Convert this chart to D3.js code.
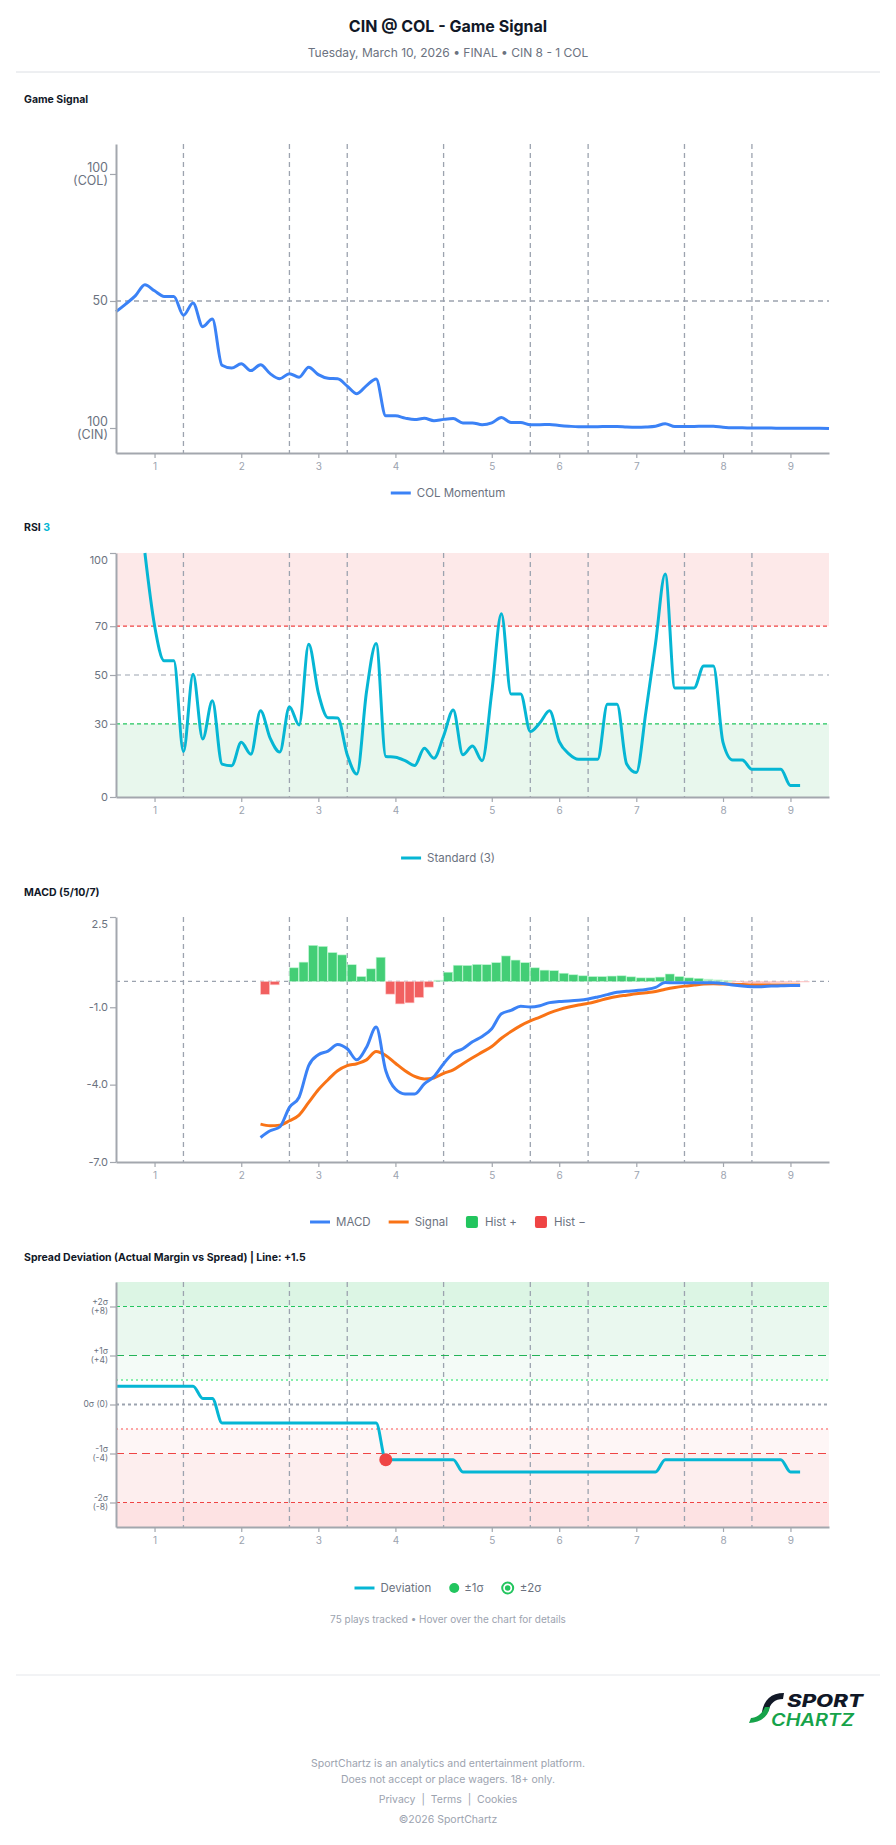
<!DOCTYPE html>
<html>
<head>
<meta charset="utf-8">
<script src="https://cdn.jsdelivr.net/npm/d3@7"></script>
<style>
  body { margin: 0; background: #fff; }
  svg text { font-family: Inter, "Noto Sans", sans-serif; }
</style>
</head>
<body>
<svg id="page"></svg>
<script>
// ---- data ----
const inningLabels = ["1", "2", "3", "4", "5", "6", "7", "8", "9"];
const inningTickPlay = [4, 13, 21, 29, 39, 46, 54, 63, 70];
const inningBreakPlay = [7, 18, 24, 34, 43, 49, 59, 66];

// COL momentum, play 0..74 (100 = COL, 0 = CIN)
const momentum = [
  45.8, 48.8, 52.0, 56.4, 54.0, 51.8, 51.8, 44.4, 49.2, 39.9,
  42.9, 24.7, 23.6, 25.3, 22.6, 24.9, 21.4, 19.4, 21.4, 20.0,
  23.9, 21.0, 19.6, 19.4, 16.5, 13.5, 16.7, 19.3, 4.8, 4.8,
  3.9, 3.3, 3.8, 2.9, 3.4, 3.7, 2.0, 2.0, 1.3, 2.0,
  4.1, 2.2, 2.2, 1.3, 1.3, 1.4, 1.0, 0.7, 0.5, 0.5,
  0.5, 0.6, 0.6, 0.4, 0.3, 0.4, 0.7, 1.7, 0.6, 0.6,
  0.6, 0.7, 0.7, 0.3, 0.1, 0.1, 0.0, 0.0, 0.0, -0.1,
  -0.1, -0.1, -0.1, -0.1, -0.2
];

// RSI(3), starts at play 3
const rsiStart = 3;
const rsi = [
  100, 70.3, 55.8, 55.8, 18.6, 50.3, 23.8, 39.4, 13.5, 12.8,
  22.4, 17.5, 35.3, 24.1, 18.4, 37.0, 29.5, 62.6, 42.7, 32.5,
  32.4, 17.3, 9.4, 43.1, 62.9, 16.6, 16.3, 14.9, 12.9, 20.0,
  15.9, 25.0, 35.7, 17.3, 20.9, 14.9, 43.0, 75.1, 42.2, 42.2,
  26.8, 30.4, 35.3, 22.7, 17.7, 15.5, 15.5, 15.5, 38.0, 38.0,
  13.5, 10.0, 35.0, 63.0, 91.4, 44.7, 44.7, 44.7, 53.7, 53.7,
  22.4, 15.2, 15.2, 11.4, 11.4, 11.4, 11.4, 4.7, 4.7
];

// MACD (5/10/7), starts at play 15
const macdStart = 15;
const macdLine = [
  -6.05, -5.79, -5.64, -4.88, -4.49, -3.26, -2.84, -2.70, -2.44, -2.61,
  -3.04, -2.55, -1.77, -3.46, -4.17, -4.36, -4.36, -3.97, -3.69, -3.19,
  -2.78, -2.61, -2.34, -2.13, -1.83, -1.25, -1.12, -0.96, -0.99, -0.94,
  -0.82, -0.78, -0.76, -0.73, -0.68, -0.60, -0.51, -0.42, -0.38, -0.35,
  -0.31, -0.23, -0.04, -0.05, -0.05, -0.05, -0.05, -0.05, -0.08, -0.14,
  -0.18, -0.20, -0.20, -0.18, -0.17, -0.16, -0.16
];
const signalLine = [
  -5.53, -5.59, -5.57, -5.40, -5.18, -4.69, -4.20, -3.81, -3.46, -3.26,
  -3.19, -3.04, -2.72, -2.87, -3.17, -3.46, -3.68, -3.78, -3.74, -3.56,
  -3.43, -3.19, -2.96, -2.74, -2.52, -2.20, -1.94, -1.71, -1.53, -1.38,
  -1.22, -1.09, -0.99, -0.91, -0.85, -0.76, -0.66, -0.58, -0.53, -0.48,
  -0.44, -0.39, -0.30, -0.23, -0.18, -0.14, -0.10, -0.09, -0.10, -0.11,
  -0.12, -0.14, -0.14, -0.14, -0.14, -0.14, -0.14
];
const histogram = [
  -0.50, -0.13, 0.00, 0.53, 0.75, 1.40, 1.36, 1.12, 1.03, 0.65,
  0.19, 0.49, 0.94, -0.49, -0.87, -0.83, -0.62, -0.22, 0.05, 0.36,
  0.63, 0.62, 0.66, 0.65, 0.73, 0.99, 0.83, 0.73, 0.53, 0.44,
  0.42, 0.32, 0.26, 0.22, 0.19, 0.19, 0.21, 0.22, 0.18, 0.14,
  0.14, 0.17, 0.29, 0.19, 0.14, 0.12, 0.09, 0.06, 0.03, -0.02,
  -0.06, -0.07, -0.07, -0.05, -0.04, -0.03, -0.02
];

// spread deviation (actual margin vs spread), play 0..71
const deviation = [
  1.5, 1.5, 1.5, 1.5, 1.5, 1.5, 1.5, 1.5, 1.5, 0.5,
  0.5, -1.5, -1.5, -1.5, -1.5, -1.5, -1.5, -1.5, -1.5, -1.5,
  -1.5, -1.5, -1.5, -1.5, -1.5, -1.5, -1.5, -1.5, -4.5, -4.5,
  -4.5, -4.5, -4.5, -4.5, -4.5, -4.5, -5.5, -5.5, -5.5, -5.5,
  -5.5, -5.5, -5.5, -5.5, -5.5, -5.5, -5.5, -5.5, -5.5, -5.5,
  -5.5, -5.5, -5.5, -5.5, -5.5, -5.5, -5.5, -4.5, -4.5, -4.5,
  -4.5, -4.5, -4.5, -4.5, -4.5, -4.5, -4.5, -4.5, -4.5, -4.5,
  -5.5, -5.5
];
const sigmaMarkPlays = [28];

// ---- page ----
const W = 896, H = 1845;
const svg = d3.select("#page")
  .attr("width", W)
  .attr("height", H)
  .attr("viewBox", `0 0 ${W} ${H}`);

const AXIS = "#a3a7ae", GRID = "#9ca3af", MUTED = "#6b7280", LIGHT = "#9ca3af";
const BLUE = "#3b82f6", ORANGE = "#f97316", CYAN = "#06b6d4", GREEN = "#22c55e", RED = "#ef4444";

const x = d3.scaleLinear().domain([0, momentum.length - 1]).range([116, 829]);
const pts = (arr, start) => arr.map((v, k) => ({ i: k + start, v }));

// header
svg.append("text").attr("x", W / 2).attr("y", 32).attr("text-anchor", "middle")
  .attr("font-size", 16).attr("font-weight", 700).attr("fill", "#111827")
  .text("CIN @ COL - Game Signal");
svg.append("text").attr("x", W / 2).attr("y", 57).attr("text-anchor", "middle")
  .attr("font-size", 12).attr("fill", MUTED)
  .text("Tuesday, March 10, 2026 \u2022 FINAL \u2022 CIN 8 - 1 COL");
svg.append("line").attr("x1", 16).attr("x2", 880).attr("y1", 72).attr("y2", 72)
  .attr("stroke", "#dcdfe4").attr("stroke-width", 1);

function sectionTitle(y, parts) {
  const t = svg.append("text").attr("x", 24).attr("y", y)
    .attr("font-size", 10.5).attr("font-weight", 700).attr("fill", "#111827");
  parts.forEach(p => t.append("tspan").attr("fill", p.color || "#111827").text(p.text));
}

// frame: inning lines + axes, labels can be multi-line
function drawFrame(y, opts) {
  const g = svg.append("g");
  const [bottom, top] = y.range();
  const back = g.append("g");
  back.selectAll("line.inning")
    .data(inningBreakPlay)
    .join("line")
    .attr("class", "inning")
    .attr("x1", d => x(d)).attr("x2", d => x(d))
    .attr("y1", top).attr("y2", bottom)
    .attr("stroke", GRID).attr("stroke-width", 1.3)
    .attr("stroke-dasharray", "5,4");

  const front = svg.append("g");
  // x axis
  const xa = front.append("g").attr("transform", `translate(0,${bottom})`)
    .call(d3.axisBottom(x).tickValues(inningTickPlay)
      .tickFormat((d, i) => inningLabels[i]).tickSize(5).tickSizeOuter(0));
  xa.select(".domain").attr("stroke", AXIS).attr("stroke-width", 2);
  xa.selectAll(".tick line").attr("stroke", AXIS).attr("stroke-width", 1.2);
  xa.selectAll(".tick text").attr("fill", LIGHT).attr("font-size", 10)
    .attr("font-family", "Inter, sans-serif").attr("dy", "0.9em");

  // y axis
  const ya = front.append("g").attr("transform", `translate(${x.range()[0]},0)`)
    .call(d3.axisLeft(y).tickValues(opts.ticks).tickFormat("").tickSize(6).tickSizeOuter(0));
  ya.select(".domain").attr("stroke", AXIS).attr("stroke-width", 2);
  ya.selectAll(".tick line").attr("stroke", AXIS).attr("stroke-width", 1.2);

  opts.ticks.forEach(t => {
    const lines = opts.label(t);
    const lh = opts.lineHeight;
    let cy = y(t) - (lines.length - 1) * lh / 2;
    if (t === y.domain()[1] && opts.nudgeTop) cy += opts.nudgeTop;
    const txt = front.append("text")
      .attr("x", x.range()[0] - 8).attr("text-anchor", "end")
      .attr("font-size", opts.fontSize).attr("fill", MUTED);
    lines.forEach((s, k) => txt.append("tspan")
      .attr("x", x.range()[0] - 8).attr("y", cy + k * lh)
      .attr("dy", "0.35em").text(s));
  });
  return { back, front };
}

function hLine(g, y, v, color, dash, width) {
  g.append("line")
    .attr("x1", x.range()[0]).attr("x2", x.range()[1])
    .attr("y1", y(v)).attr("y2", y(v))
    .attr("stroke", color).attr("stroke-width", width)
    .attr("stroke-dasharray", dash);
}

function drawLegend(cy, items) {
  const g = svg.append("g");
  let cx = 0;
  items.forEach((it, k) => {
    if (k > 0) cx += 18;
    if (it.kind === "line") {
      g.append("line").attr("x1", cx).attr("x2", cx + 20).attr("y1", cy).attr("y2", cy)
        .attr("stroke", it.color).attr("stroke-width", 3);
      cx += 26;
    } else if (it.kind === "square") {
      g.append("rect").attr("x", cx).attr("y", cy - 6).attr("width", 12).attr("height", 12)
        .attr("rx", 2).attr("fill", it.color);
      cx += 19;
    } else if (it.kind === "dot") {
      g.append("circle").attr("cx", cx + 5).attr("cy", cy).attr("r", 5).attr("fill", it.color);
      cx += 15;
    } else if (it.kind === "ring") {
      g.append("circle").attr("cx", cx + 6).attr("cy", cy).attr("r", 5.5)
        .attr("fill", "none").attr("stroke", it.color).attr("stroke-width", 2);
      g.append("circle").attr("cx", cx + 6).attr("cy", cy).attr("r", 2.8).attr("fill", it.color);
      cx += 18;
    }
    const t = g.append("text").attr("x", cx).attr("y", cy).attr("dy", "0.35em")
      .attr("font-size", 11.5).attr("fill", MUTED).text(it.label);
    cx += t.node().getComputedTextLength();
  });
  g.attr("transform", `translate(${W / 2 - cx / 2},0)`);
}

const line = (y) => d3.line().x(d => x(d.i)).y(d => y(d.v)).curve(d3.curveMonotoneX);

// ---- 1. Game Signal ----
sectionTitle(103, [{ text: "Game Signal" }]);
const y1 = d3.scaleLinear().domain([-9.84, 111.8]).range([453, 144]);
const f1 = drawFrame(y1, {
  ticks: [100, 50, 0],
  label: t => t === 100 ? ["100", "(COL)"] : t === 0 ? ["100", "(CIN)"] : [String(t)],
  fontSize: 12.5, lineHeight: 13.5
});
hLine(f1.back, y1, 50, GRID, "5,4", 1.3);
f1.back.append("path").datum(pts(momentum, 0))
  .attr("d", line(y1)).attr("fill", "none").attr("stroke", BLUE)
  .attr("stroke-width", 3).attr("stroke-linejoin", "round");
drawLegend(493, [{ kind: "line", color: BLUE, label: "COL Momentum" }]);

// ---- 2. RSI ----
sectionTitle(531, [{ text: "RSI " }, { text: "3", color: CYAN }]);
const y2 = d3.scaleLinear().domain([0, 100]).range([797, 553]);
svg.append("rect").attr("x", x.range()[0]).attr("width", x.range()[1] - x.range()[0])
  .attr("y", y2(100)).attr("height", y2(70) - y2(100)).attr("fill", "#fde9e9");
svg.append("rect").attr("x", x.range()[0]).attr("width", x.range()[1] - x.range()[0])
  .attr("y", y2(30)).attr("height", y2(0) - y2(30)).attr("fill", "#e8f7ed");
const f2 = drawFrame(y2, {
  ticks: [100, 70, 50, 30, 0],
  label: t => [String(t)], fontSize: 11, lineHeight: 12, nudgeTop: 7
});
hLine(f2.back, y2, 70, RED, "4,3", 1.2);
hLine(f2.back, y2, 50, GRID, "5,4", 1.2);
hLine(f2.back, y2, 30, GREEN, "4,3", 1.2);
f2.back.append("path").datum(pts(rsi, rsiStart))
  .attr("d", line(y2)).attr("fill", "none").attr("stroke", CYAN)
  .attr("stroke-width", 3).attr("stroke-linejoin", "round");
drawLegend(858, [{ kind: "line", color: CYAN, label: "Standard (3)" }]);

// ---- 3. MACD ----
sectionTitle(896, [{ text: "MACD (5/10/7)" }]);
const y3 = d3.scaleLinear().domain([-7, 2.5]).range([1162, 917]);
const f3 = drawFrame(y3, {
  ticks: [2.5, -1, -4, -7],
  label: t => [d3.format(".1f")(t).replace("\u2212", "-")], fontSize: 11, lineHeight: 12, nudgeTop: 7
});
hLine(f3.back, y3, 0, GRID, "4,4", 1.2);
const step = x(1) - x(0);
f3.back.selectAll("rect.hist")
  .data(pts(histogram, macdStart).filter(d => d.v !== 0))
  .join("rect")
  .attr("class", "hist")
  .attr("x", d => x(d.i))
  .attr("width", step - 0.6)
  .attr("y", d => Math.min(y3(0), y3(d.v)))
  .attr("height", d => Math.abs(y3(d.v) - y3(0)))
  .attr("fill", d => d.v > 0 ? GREEN : RED)
  .attr("fill-opacity", d => Math.abs(d.v) < 0.1 ? 0.35 : 0.85)
  .attr("stroke", d => d.v > 0 ? "#bbf7d0" : "#fecaca")
  .attr("stroke-width", 0.6);
f3.back.append("path").datum(pts(signalLine, macdStart))
  .attr("d", line(y3)).attr("fill", "none").attr("stroke", ORANGE).attr("stroke-width", 3);
f3.back.append("path").datum(pts(macdLine, macdStart))
  .attr("d", line(y3)).attr("fill", "none").attr("stroke", BLUE).attr("stroke-width", 3);
drawLegend(1222, [
  { kind: "line", color: BLUE, label: "MACD" },
  { kind: "line", color: ORANGE, label: "Signal" },
  { kind: "square", color: GREEN, label: "Hist +" },
  { kind: "square", color: RED, label: "Hist \u2212" }
]);

// ---- 4. Spread deviation ----
sectionTitle(1261, [{ text: "Spread Deviation (Actual Margin vs Spread) | Line: +1.5" }]);
const y4 = d3.scaleLinear().domain([-10, 10]).range([1527, 1282]);
const bands = [
  { from: 8, to: 10, fill: "#dcf5e4" },
  { from: 4, to: 8, fill: "#eaf8ef" },
  { from: 2, to: 4, fill: "#f4fbf7" },
  { from: -4, to: -2, fill: "#fef6f6" },
  { from: -8, to: -4, fill: "#fdeeee" },
  { from: -10, to: -8, fill: "#fde2e3" }
];
svg.append("g").selectAll("rect").data(bands).join("rect")
  .attr("x", x.range()[0]).attr("width", x.range()[1] - x.range()[0])
  .attr("y", d => y4(d.to)).attr("height", d => y4(d.from) - y4(d.to))
  .attr("fill", d => d.fill);
const f4 = drawFrame(y4, {
  ticks: [8, 4, 0, -4, -8],
  label: t => {
    if (t === 0) return ["0\u03c3 (0)"];
    const s = t > 0 ? "+" : "-";
    return [`${s}${Math.abs(t) / 4}\u03c3`, `(${s}${Math.abs(t)})`];
  },
  fontSize: 8.5, lineHeight: 9
});
[
  { v: 8, c: GREEN, d: "4,3", w: 1.2 },
  { v: 4, c: "#22b357", d: "8,5", w: 1.2 },
  { v: 2, c: "#86efac", d: "2,3", w: 2 },
  { v: 0, c: GRID, d: "3,3", w: 2 },
  { v: -2, c: "#fca5a5", d: "2,3", w: 2 },
  { v: -4, c: RED, d: "8,5", w: 1.2 },
  { v: -8, c: RED, d: "4,3", w: 1.2 }
].forEach(r => hLine(f4.back, y4, r.v, r.c, r.d, r.w));
f4.back.append("path").datum(pts(deviation, 0))
  .attr("d", line(y4)).attr("fill", "none").attr("stroke", CYAN)
  .attr("stroke-width", 3).attr("stroke-linejoin", "round");
f4.front.selectAll("circle.sigma")
  .data(sigmaMarkPlays)
  .join("circle")
  .attr("class", "sigma")
  .attr("cx", d => x(d)).attr("cy", d => y4(deviation[d]))
  .attr("r", 6.5)
  .attr("fill", d => deviation[d] < 0 ? RED : GREEN);
drawLegend(1588, [
  { kind: "line", color: CYAN, label: "Deviation" },
  { kind: "dot", color: GREEN, label: "\u00b11\u03c3" },
  { kind: "ring", color: GREEN, label: "\u00b12\u03c3" }
]);
svg.append("text").attr("x", W / 2).attr("y", 1619).attr("dy", "0.35em")
  .attr("text-anchor", "middle").attr("font-size", 10).attr("fill", LIGHT)
  .text("75 plays tracked \u2022 Hover over the chart for details");

// ---- footer ----
svg.append("line").attr("x1", 16).attr("x2", 880).attr("y1", 1675).attr("y2", 1675)
  .attr("stroke", "#e5e7eb").attr("stroke-width", 1);
const logo = svg.append("g");
logo.append("path")
  .attr("d", "M784 1693 C771 1693 764 1700 762 1712 L768 1712 C770 1703 775 1699 783 1699 Z")
  .attr("fill", "#111827");
logo.append("path")
  .attr("d", "M749 1723 C760 1723 768 1717 770 1707 L765 1707 C762 1714 757 1718 751 1718 Z")
  .attr("fill", "#16a34a");
logo.append("text").attr("x", 787).attr("y", 1707)
  .attr("font-size", 17).attr("font-weight", 800).attr("font-style", "italic")
  .attr("fill", "#111827").attr("textLength", 76).attr("lengthAdjust", "spacingAndGlyphs")
  .text("SPORT");
logo.append("text").attr("x", 771).attr("y", 1726)
  .attr("font-size", 17).attr("font-weight", 600).attr("font-style", "italic")
  .attr("fill", "#16a34a").attr("textLength", 83).attr("lengthAdjust", "spacingAndGlyphs")
  .text("CHARTZ");

const footLines = [
  { y: 1763, text: "SportChartz is an analytics and entertainment platform." },
  { y: 1779, text: "Does not accept or place wagers. 18+ only." },
  { y: 1799, text: "Privacy  |  Terms  |  Cookies" },
  { y: 1819, text: "\u00a92026 SportChartz" }
];
svg.append("g").selectAll("text").data(footLines).join("text")
  .attr("x", W / 2).attr("y", d => d.y).attr("dy", "0.35em")
  .attr("text-anchor", "middle").attr("font-size", 10.5).attr("fill", LIGHT)
  .attr("xml:space", "preserve")
  .text(d => d.text);
</script>
</body>
</html>
